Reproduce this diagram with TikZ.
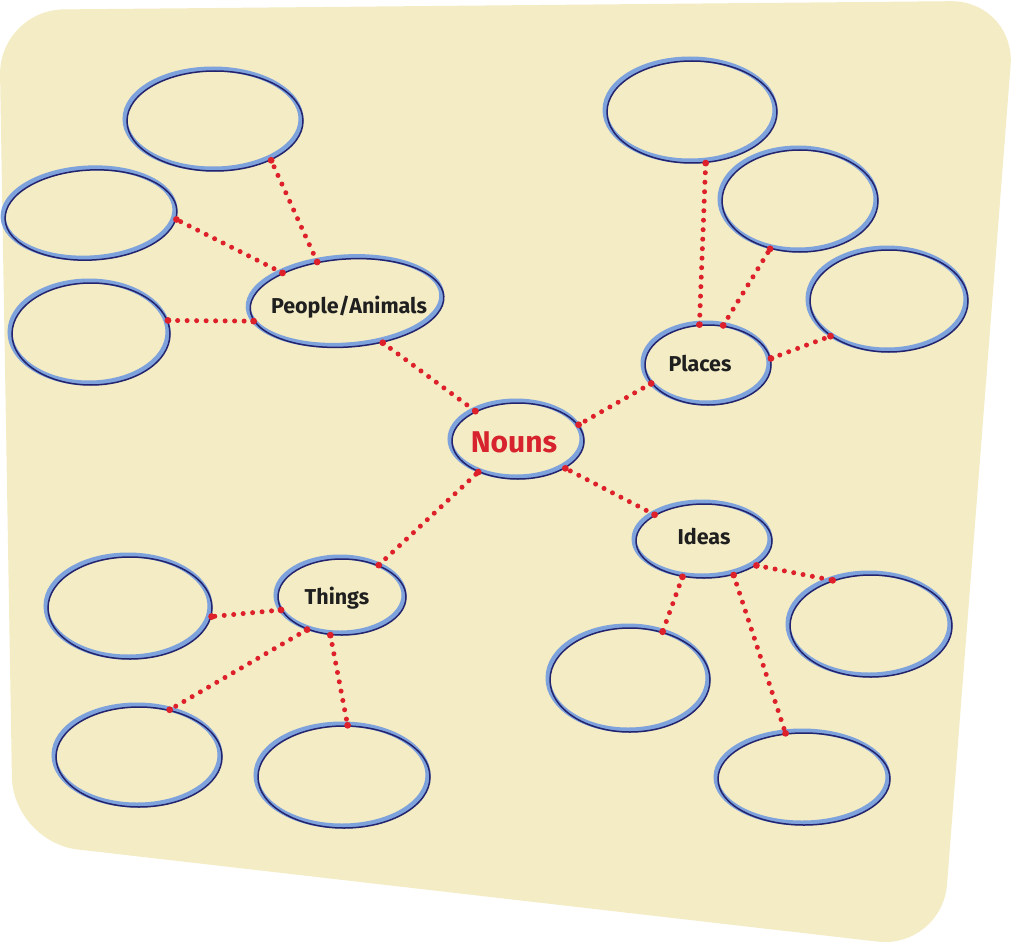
\documentclass[tikz,border=0pt]{standalone}
\usepackage{fontspec}
\setmainfont{Fira Sans}
\usetikzlibrary{shapes.geometric}
\definecolor{bg}{RGB}{243,236,197}
\definecolor{navy}{RGB}{36,36,110}
\definecolor{lblue}{RGB}{125,162,220}
\definecolor{dotred}{RGB}{222,32,42}
\definecolor{nounred}{RGB}{215,35,45}
\tikzset{
  bub/.style={ellipse, draw=navy, line width=1.5pt, inner sep=0pt,
    preaction={draw=lblue, line width=5pt, transform canvas={shift={(-2,-2)}}}},
  lab/.style={font=\bfseries\fontsize{21.5}{23}\selectfont, text=black!88},
  conn/.style={draw=dotred, line width=5pt, line cap=round, dash pattern=on 0pt off 9.5pt},
}
\newcommand{\myendpts}[2]{\fill[dotred] (#1) circle (3.4); \fill[dotred] (#2) circle (3.4);}
\begin{document}
\begin{tikzpicture}[x=1pt,y=-1pt]
\useasboundingbox (0,0) rectangle (1016,944);
\fill[bg, rounded corners=65] (-1,10) -- (1015.6,0.6) -- (942,949) -- (13,842) -- cycle;

% main nodes
\node[bub, minimum width=132, minimum height=76] (nouns) at (518,441) {};
\node[text=nounred, font=\bfseries\fontsize{30}{32}\selectfont] (nounslab) at (514,442) {Nouns};
\node[bub, minimum width=194, minimum height=88, rotate=4] (people) at (347,303) {};
\node[lab] (peoplelab) at (349,307) {People/Animals};
\node[bub, minimum width=126, minimum height=80] (places) at (708,365) {};
\node[lab] (placeslab) at (700,364) {Places};
\node[bub, minimum width=136, minimum height=74] (ideas) at (704,541) {};
\node[lab] (ideaslab) at (704,537) {Ideas};
\node[bub, minimum width=128, minimum height=76] (things) at (342,597) {};
\node[lab] (thingslab) at (337,598) {Things};

% leaves
\node[bub, minimum width=176, minimum height=100] (l1) at (215,121) {};
\node[bub, minimum width=172, minimum height=90, rotate=3] (l2) at (91,215) {};
\node[bub, minimum width=158, minimum height=102] (l3) at (91,334) {};
\node[bub, minimum width=170, minimum height=102] (p1) at (692,112) {};
\node[bub, minimum width=156, minimum height=102] (p2) at (800,201) {};
\node[bub, minimum width=158, minimum height=102] (p3) at (889,301) {};
\node[bub, minimum width=162, minimum height=102] (i1) at (871,626) {};
\node[bub, minimum width=160, minimum height=104] (i2) at (630,680) {};
\node[bub, minimum width=172, minimum height=92] (i3) at (804,779) {};
\node[bub, minimum width=164, minimum height=102] (t1) at (130,608) {};
\node[bub, minimum width=166, minimum height=100] (t2) at (139,757) {};
\node[bub, minimum width=172, minimum height=102] (t3) at (344,777) {};

% connectors
\foreach \a/\b in {people.122/l1.325, people.151/l2.354, people.187/l3.10, people.308/nouns.145,
  places.102/p1.285, places.69/p2.238, places.6/p3.211, places.198/nouns.15,
  ideas.152/nouns.330, ideas.335/i1.130, ideas.239/i2.56, ideas.311/i3.112,
  things.41/nouns.218, things.192/t1.354, things.223/t2.57, things.253/t3.86}{
  \draw[conn] (\a) -- (\b);
  \myendpts{\a}{\b}
}
\end{tikzpicture}
\end{document}
